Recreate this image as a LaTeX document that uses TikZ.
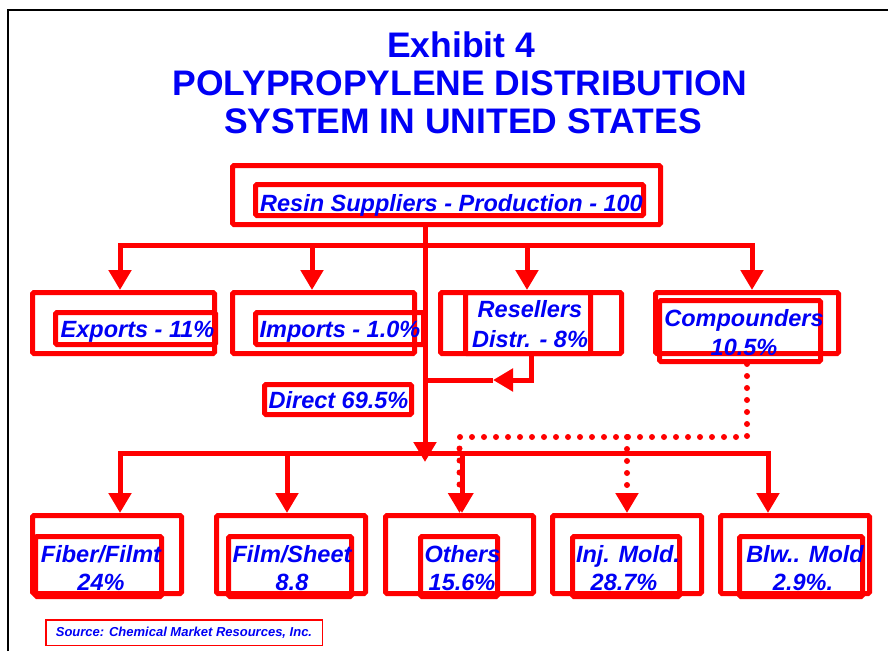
\documentclass[tikz,border=0pt]{standalone}
\usepackage{fontspec}
\setmainfont{Liberation Sans}
\usetikzlibrary{arrows.meta}
\definecolor{tblue}{RGB}{0,0,245}
\definecolor{lred}{RGB}{255,0,0}
\newcommand\placebox[6]{\node[#1, minimum width={((#5)-(#3)-5)*1pt}, minimum height={((#6)-(#4)-5)*1pt}] (#2) at ({((#3)+(#5))/2},{((#4)+(#6))/2}) {};}
\tikzset{
  outerbox/.style={draw=lred, line width=5pt, rounded corners=1.5pt, inner sep=0pt},
  lbl/.style={text=tblue, font=\fontsize{23.5}{29}\selectfont\bfseries\itshape, inner sep=0pt, anchor=base},
  ttl/.style={text=tblue, font=\fontsize{35.5}{40}\selectfont\bfseries, inner sep=0pt, anchor=base},
  conn/.style={draw=lred, line width=5pt},
  arr/.style={conn, -{Triangle[length=20pt,width=22pt]}},
  dots/.style={draw=lred, line width=6pt, line cap=round, dash pattern=on 0pt off 12pt, -{Triangle[length=20pt,width=22pt]}},
}
\begin{document}
\begin{tikzpicture}[x=1pt,y=-1pt]
\useasboundingbox (0,0) rectangle (888,651);
% frame
\coordinate (fA) at (8,651);
\coordinate (fB) at (8,10);
\coordinate (fC) at (888,10);
\draw[black, line width=1.6pt] (fA) -- (fB) -- (fC);
% title
\node[ttl] (t1) at (461,57) {Exhibit 4};
\node[ttl] (t2) at (460,95) {POLYPROPYLENE DISTRIBUTION};
\node[ttl] (t3) at (463,133) {SYSTEM IN UNITED STATES};
% boxes
\placebox{outerbox}{Resin}{230}{163}{663}{227}
\placebox{outerbox}{ResinIn}{253}{182}{646}{218}
\placebox{outerbox}{Exp}{30}{290}{217}{356}
\placebox{outerbox}{ExpIn}{53}{310}{218}{347}
\placebox{outerbox}{Imp}{230}{290}{417}{356}
\placebox{outerbox}{ImpIn}{253}{310}{426}{347}
\placebox{outerbox}{Res}{438}{290}{624}{356}
\placebox{outerbox}{ResIn}{463}{290}{593}{356}
\placebox{outerbox}{Comp}{653}{290}{841}{356}
\placebox{outerbox}{CompIn}{657}{298}{823}{364}
\placebox{outerbox}{Dir}{262}{382}{414}{417}
\placebox{outerbox}{Fib}{30}{513}{184}{596}
\placebox{outerbox}{FibIn}{33}{534}{164}{599}
\placebox{outerbox}{Film}{214}{513}{368}{596}
\placebox{outerbox}{FilmIn}{226}{534}{354}{599}
\placebox{outerbox}{Oth}{383}{513}{536}{596}
\placebox{outerbox}{OthIn}{418}{534}{500}{599}
\placebox{outerbox}{Inj}{550}{513}{704}{596}
\placebox{outerbox}{InjIn}{570}{534}{682}{599}
\placebox{outerbox}{Blw}{718}{513}{872}{596}
\placebox{outerbox}{BlwIn}{737}{534}{865}{599}
% junction coordinates
\coordinate (topbus) at (425,245);
\coordinate (botbus) at (425,453);
\coordinate (reselJoin) at (425,380);
\coordinate (reselTip) at (493,380);
\coordinate (dotR) at (747,437);
% connectors
\draw[arr] (Resin.south -| topbus) -- ([yshift=-9pt]botbus);
\draw[arr] (topbus) -| ([xshift=-3.5pt]Exp.north);
\draw[arr] (topbus) -| ([xshift=5pt]Comp.north);
\draw[arr] ([xshift=-11.5pt]Imp.north |- topbus) -- ([xshift=-11.5pt]Imp.north);
\draw[arr] ([xshift=-4pt]Res.north |- topbus) -- ([xshift=-4pt]Res.north);
\draw[arr] (Res.south) |- (reselTip);
\draw[conn] (reselTip) -- (reselJoin);
\draw[arr] (botbus) -| ([xshift=13pt]Fib.north);
\draw[arr] (botbus) -| ([xshift=-27pt]Blw.north);
\draw[arr] ([xshift=-4pt]Film.north |- botbus) -- ([xshift=-4pt]Film.north);
\draw[arr] ([xshift=2.5pt]Oth.north |- botbus) -- ([xshift=2.5pt]Oth.north);
\draw[dots] (CompIn.south -| dotR) -- (dotR) -| (Oth.north);
\draw[dots] (dotR -| Inj.north) -- (Inj.north);
% texts
\node[lbl] (tResin) at (451.5,211) {Resin Suppliers - Production - 100};
\node[lbl] (tExp) at (137.5,337) {Exports - 11\%};
\node[lbl] (tImp) at (340,337) {Imports - 1.0\%};
\node[lbl] (tRes1) at (530,317) {Resellers};
\node[lbl] (tRes2) at (530,347) {Distr. - 8\%};
\node[lbl] (tComp1) at (744,326) {Compounders};
\node[lbl] (tComp2) at (744,355) {10.5\%};
\node[lbl] (tDir) at (338.5,408) {Direct 69.5\%};
\node[lbl] (tFib1) at (101,562) {Fiber/Filmt};
\node[lbl] (tFib2) at (101,590) {24\%};
\node[lbl] (tFilm1) at (292,562) {Film/Sheet};
\node[lbl] (tFilm2) at (292,590) {8.8};
\node[lbl] (tOth1) at (462.5,562) {Others};
\node[lbl] (tOth2) at (462,590) {15.6\%};
\node[lbl] (tInj1) at (628,562) {Inj. Mold.};
\node[lbl] (tInj2) at (624,590) {28.7\%};
\node[lbl] (tBlw1) at (805,562) {Blw.. Mold};
\node[lbl] (tBlw2) at (803,590) {2.9\%.};
% source
\node[draw=lred, line width=1.5pt, minimum width=276.5pt, minimum height=25.5pt, inner sep=0pt, text=tblue, font=\fontsize{13}{15}\selectfont\bfseries\itshape] (src) at (184,632.5) {Source: Chemical Market Resources, Inc.};
\end{tikzpicture}
\end{document}
